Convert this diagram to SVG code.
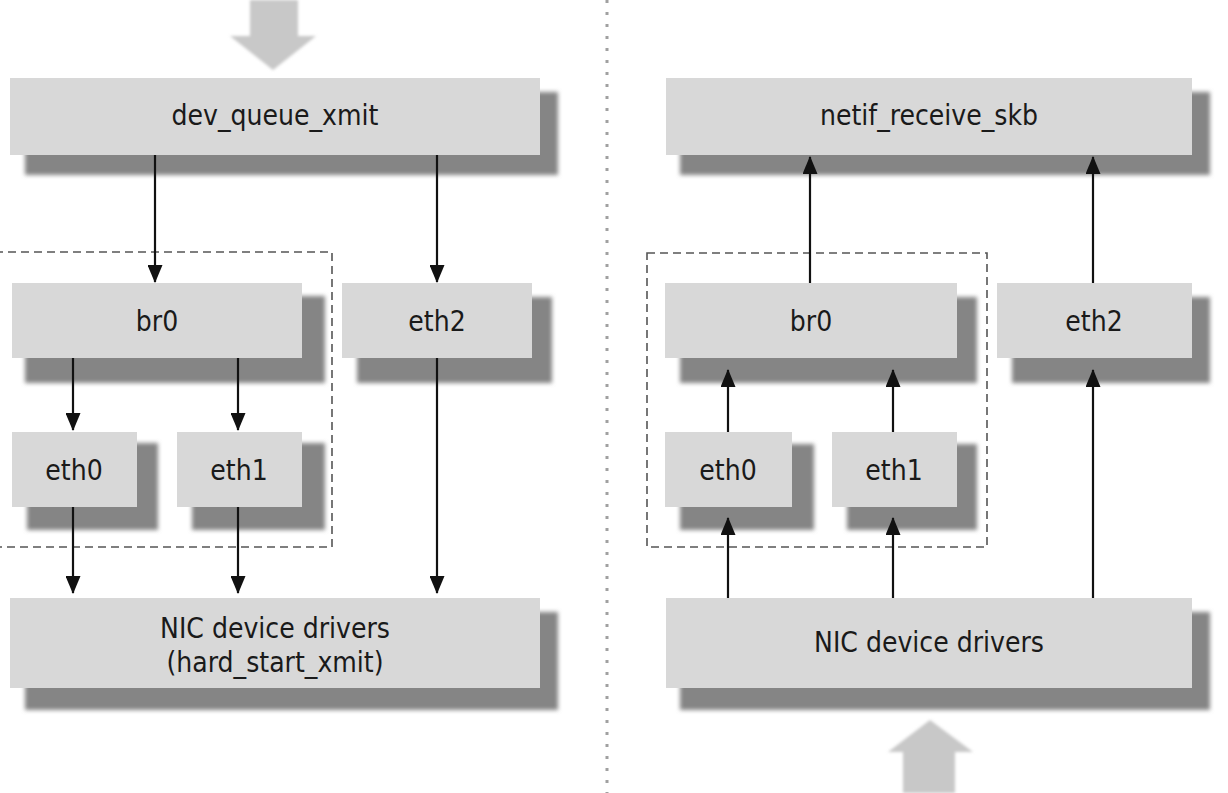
<svg xmlns="http://www.w3.org/2000/svg" width="1228" height="793" viewBox="0 0 1228 793">
<defs>
<filter id="blur" x="-5%" y="-10%" width="110%" height="120%"><feGaussianBlur stdDeviation="2"/></filter>
<filter id="soft" x="-10%" y="-10%" width="120%" height="120%"><feGaussianBlur stdDeviation="1.5"/></filter>
<marker id="ah" markerWidth="18" markerHeight="15" refX="17" refY="7.5" orient="auto" markerUnits="userSpaceOnUse" viewBox="0 0 18 15">
<path d="M0,0 L18,7.5 L0,15 Z" fill="#111"/>
</marker>
</defs>
<style>
.sh{fill:#858585;filter:url(#blur)}
.bx{fill:#d8d8d8}
.t{font-family:"DejaVu Sans Condensed","DejaVu Sans",sans-serif;font-size:28px;fill:#1a1a1a;text-anchor:middle}
.c{stroke:#111;stroke-width:2.2;fill:none;marker-end:url(#ah)}
.grp{fill:none;stroke:#555;stroke-width:1.6;stroke-dasharray:8 5}
.big{fill:#c8c8c8;filter:url(#soft)}
</style>
<rect width="1228" height="793" fill="#ffffff"/>
<path class="big" d="M250,0 H298 V36 H316 L273,70 L230,36 H250 Z"/>
<path class="big" d="M903,793 V752 H888 L930,720 L973,752 H955 V793 Z"/>
<line x1="607" y1="0" x2="607" y2="793" stroke="#a0a0a0" stroke-width="3" stroke-dasharray="3 9"/>
<rect class="grp" x="-5" y="252" width="337" height="295"/>
<rect class="grp" x="647" y="253" width="340" height="294"/>
<g id="dev_queue_xmit"><rect class="sh" x="25" y="92" width="533" height="83"/><rect class="bx" x="10" y="78" width="530" height="77"/><text class="t" x="275" y="125">dev_queue_xmit</text></g>
<g id="br0_l"><rect class="sh" x="25" y="296" width="300" height="87"/><rect class="bx" x="12" y="283" width="290" height="75"/><text class="t" x="157" y="331">br0</text></g>
<g id="eth2_l"><rect class="sh" x="357" y="297" width="195" height="86"/><rect class="bx" x="342" y="283" width="190" height="75"/><text class="t" x="437" y="331">eth2</text></g>
<g id="eth0_l"><rect class="sh" x="27" y="443" width="131" height="87"/><rect class="bx" x="12" y="432" width="125" height="75"/><text class="t" x="74" y="480">eth0</text></g>
<g id="eth1_l"><rect class="sh" x="192" y="443" width="133" height="87"/><rect class="bx" x="177" y="432" width="125" height="75"/><text class="t" x="239" y="480">eth1</text></g>
<g id="nic_l"><rect class="sh" x="25" y="612" width="533" height="98"/><rect class="bx" x="10" y="598" width="530" height="90"/><text class="t" x="275" y="638">NIC device drivers</text><text class="t" x="275" y="672">(hard_start_xmit)</text></g>
<g id="netif_receive_skb"><rect class="sh" x="680" y="92" width="530" height="83"/><rect class="bx" x="666" y="78" width="526" height="77"/><text class="t" x="929" y="125">netif_receive_skb</text></g>
<g id="br0_r"><rect class="sh" x="680" y="297" width="297" height="86"/><rect class="bx" x="665" y="283" width="292" height="75"/><text class="t" x="811" y="331">br0</text></g>
<g id="eth2_r"><rect class="sh" x="1012" y="297" width="198" height="86"/><rect class="bx" x="997" y="283" width="195" height="75"/><text class="t" x="1094" y="331">eth2</text></g>
<g id="eth0_r"><rect class="sh" x="680" y="444" width="134" height="86"/><rect class="bx" x="665" y="432" width="127" height="75"/><text class="t" x="728" y="480">eth0</text></g>
<g id="eth1_r"><rect class="sh" x="847" y="444" width="130" height="86"/><rect class="bx" x="832" y="432" width="125" height="75"/><text class="t" x="894" y="480">eth1</text></g>
<g id="nic_r"><rect class="sh" x="680" y="612" width="530" height="98"/><rect class="bx" x="666" y="598" width="526" height="90"/><text class="t" x="929" y="652">NIC device drivers</text></g>
<g id="connectors">
<line class="c" x1="155" y1="155" x2="155" y2="282"/>
<line class="c" x1="437" y1="155" x2="437" y2="282"/>
<line class="c" x1="73" y1="358" x2="73" y2="430"/>
<line class="c" x1="238" y1="358" x2="238" y2="430"/>
<line class="c" x1="73" y1="507" x2="73" y2="593"/>
<line class="c" x1="238" y1="507" x2="238" y2="593"/>
<line class="c" x1="437" y1="358" x2="437" y2="593"/>
<line class="c" x1="810" y1="283" x2="810" y2="157"/>
<line class="c" x1="1093" y1="283" x2="1093" y2="157"/>
<line class="c" x1="728" y1="432" x2="728" y2="370"/>
<line class="c" x1="893" y1="432" x2="893" y2="370"/>
<line class="c" x1="728" y1="598" x2="728" y2="518"/>
<line class="c" x1="893" y1="598" x2="893" y2="518"/>
<line class="c" x1="1093" y1="598" x2="1093" y2="370"/>
</g>
</svg>
